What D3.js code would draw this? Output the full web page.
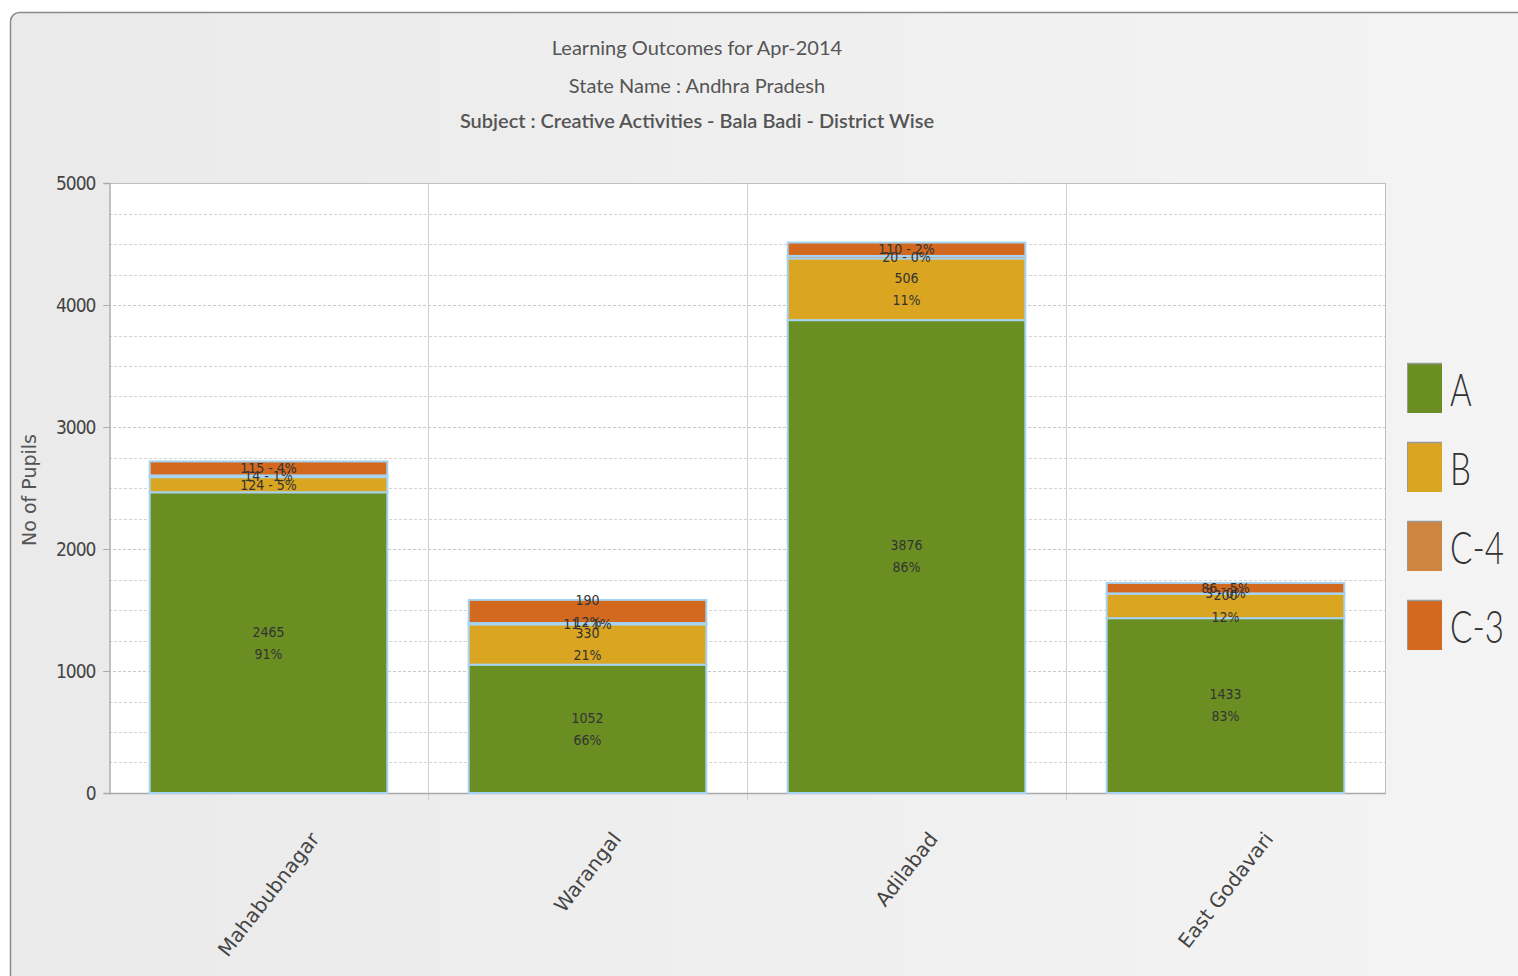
<!DOCTYPE html>
<html><head><meta charset="utf-8">
<script src="https://cdn.jsdelivr.net/npm/d3@7"></script>
<style>
html,body{margin:0;padding:0;background:#fff;}
svg{display:block;}
</style></head>
<body>
<svg id="chart" width="1518" height="976"></svg>
<script>
// ---- data ----
const districts = ["Mahabubnagar", "Warangal", "Adilabad", "East Godavari"];
const seriesNames = ["A", "B", "C-4", "C-3"];
const seriesColors = ["#6b8e23", "#daa520", "#cd853f", "#d2691e"];
const valuesA  = [2465, 1052, 3876, 1433];
const valuesB  = [124, 330, 506, 200];
const valuesC4 = [14, 11, 20, 3];
const valuesC3 = [115, 190, 110, 86];
const yTicks = [0, 1000, 2000, 3000, 4000, 5000];
const titleLines = ["Learning Outcomes for Apr-2014", "State Name : Andhra Pradesh", "Subject : Creative Activities - Bala Badi - District Wise"];
const yAxisTitle = "No of Pupils";

const svg = d3.select("#chart");
const m = {left: 109, right: 1385, top: 183, bottom: 793};

// background panel
const defs = svg.append("defs");
const grad = defs.append("linearGradient").attr("id","bg").attr("x1","0").attr("x2","1").attr("y1","0").attr("y2","0");
grad.append("stop").attr("offset","0").attr("stop-color","#eaeaea");
grad.append("stop").attr("offset","1").attr("stop-color","#f4f4f4");
svg.append("rect").attr("x",10.5).attr("y",12.5).attr("width",1530).attr("height",990).attr("rx",9)
  .attr("fill","url(#bg)").attr("stroke","#8a8a8a").attr("stroke-width",1.5);

// title
const tfont = "Lato, 'Open Sans', sans-serif";
titleLines.forEach((t,i)=>{
  svg.append("text").attr("x",697).attr("y",[55,93,128][i]).attr("text-anchor","middle")
    .attr("font-family",tfont).attr("font-size",20).attr("fill","#555")
    .attr("font-weight", i===2 ? 600 : 400)
    .text(t);
});

// scales
const x = d3.scaleBand().domain(districts).range([m.left, m.right]).padding(0);
const y = d3.scaleLinear().domain([0, 5000]).range([m.bottom, m.top]);

// plot area
svg.append("rect").attr("x",m.left).attr("y",m.top).attr("width",m.right-m.left).attr("height",m.bottom-m.top)
  .attr("fill","#fff");

// minor grid lines every 250
const minor = d3.range(250, 5000, 250).filter(v => v % 1000 !== 0);
svg.append("g").selectAll("line").data(minor).join("line")
  .attr("x1",m.left).attr("x2",m.right).attr("y1",d=>Math.round(y(d))+0.5).attr("y2",d=>Math.round(y(d))+0.5)
  .attr("stroke","#d4d4d4").attr("stroke-dasharray","3,2").attr("stroke-width",1);
// major grid
svg.append("g").selectAll("line").data(yTicks.filter(v=>v>0 && v<5000)).join("line")
  .attr("x1",m.left-6).attr("x2",m.right).attr("y1",d=>Math.round(y(d))+0.5).attr("y2",d=>Math.round(y(d))+0.5)
  .attr("stroke","#c8c8c8").attr("stroke-dasharray","3,2").attr("stroke-width",1);
// vertical separators
svg.append("g").selectAll("line").data(districts.slice(1)).join("line")
  .attr("x1",d=>Math.round(x(d))+0.5).attr("x2",d=>Math.round(x(d))+0.5).attr("y1",m.top).attr("y2",m.bottom+7)
  .attr("stroke","#d0d0d0").attr("stroke-width",1);

// frame
svg.append("line").attr("x1",m.left).attr("x2",m.right).attr("y1",m.top+0.5).attr("y2",m.top+0.5).attr("stroke","#c0c0c0");
svg.append("line").attr("x1",m.right+0.5).attr("x2",m.right+0.5).attr("y1",m.top).attr("y2",m.bottom).attr("stroke","#c0c0c0");

// y axis
const yAxis = d3.axisLeft(y).tickValues(yTicks).tickSize(6).tickPadding(8).tickFormat(d3.format("d"));
const gy = svg.append("g").attr("transform",`translate(${m.left+0.5},0)`).call(yAxis);
gy.select(".domain").attr("stroke","#aaa").attr("stroke-width",1.5);
gy.selectAll(".tick line").attr("stroke","#aaa");
gy.selectAll(".tick text").attr("font-family","'DejaVu Sans', sans-serif").attr("font-stretch","condensed")
  .attr("font-size",19).attr("fill","#444").attr("letter-spacing","-1");

// x axis baseline
svg.append("line").attr("x1",m.left).attr("x2",m.right+1).attr("y1",m.bottom+0.5).attr("y2",m.bottom+0.5)
  .attr("stroke","#aaa").attr("stroke-width",1.5);

// y title
svg.append("text").attr("transform",`translate(36,490) rotate(-90)`).attr("text-anchor","middle")
  .attr("font-family","'DejaVu Sans', sans-serif").attr("font-size",19).attr("fill","#555").text(yAxisTitle);

// stacked bars
const rows = districts.map((d,i)=>({district:d, A:valuesA[i], B:valuesB[i], "C-4":valuesC4[i], "C-3":valuesC3[i]}));
const stack = d3.stack().keys(seriesNames)(rows);
const color = d3.scaleOrdinal().domain(seriesNames).range(seriesColors);
const barW = x.bandwidth()*0.745;
const barOff = (x.bandwidth()-barW)/2;

const gBars = svg.append("g");
stack.forEach(layer=>{
  gBars.append("g").selectAll("rect").data(layer).join("rect")
    .attr("x",d=>x(d.data.district)+barOff)
    .attr("width",barW)
    .attr("y",d=>y(d[1]))
    .attr("height",d=>Math.max(0,y(d[0])-y(d[1])))
    .attr("fill",color(layer.key))
    .attr("stroke","#a6d3f2").attr("stroke-width",2);
});

// data labels
const gLab = svg.append("g").attr("font-family","'DejaVu Sans', sans-serif").attr("font-stretch","condensed")
  .attr("font-size",14).attr("fill","#333").attr("text-anchor","middle");
stack.forEach(layer=>{
  layer.forEach(d=>{
    const v = d[1]-d[0];
    const tot = seriesNames.reduce((s,k)=>s+d.data[k],0);
    const pct = Math.round(v/tot*100);
    const cx = x(d.data.district)+x.bandwidth()/2;
    const y0 = y(d[0]), y1 = y(d[1]);
    const cy = (y0+y1)/2;
    if (y0-y1 >= 20) {
      gLab.append("text").attr("x",cx).attr("y",cy-11).attr("dy","0.35em").text(v);
      gLab.append("text").attr("x",cx).attr("y",cy+11).attr("dy","0.35em").text(pct+"%");
    } else {
      gLab.append("text").attr("x",cx).attr("y",cy).attr("dy","0.35em").text(v+" - "+pct+"%");
    }
  });
});

// x labels rotated around their center
const gx = svg.append("g");
districts.forEach(d=>{
  const cx = x(d)+x.bandwidth()/2;
  const t = gx.append("text").attr("text-anchor","middle").attr("dy","0.35em")
    .attr("font-family","'DejaVu Sans', sans-serif").attr("font-size",20).attr("fill","#444").text(d);
  const L = t.node().getComputedTextLength();
  const ang = 52*Math.PI/180;
  const halfH = (L/2)*Math.sin(ang) + 8*Math.cos(ang);
  const cy = 830 + halfH;
  t.attr("transform",`translate(${cx},${cy}) rotate(-52)`);
});

// legend
const gLeg = svg.append("g");
seriesNames.forEach((s,i)=>{
  const yy = 363 + i*79;
  gLeg.append("rect").attr("x",1407).attr("y",yy).attr("width",35).attr("height",50)
    .attr("fill",seriesColors[i]);
  gLeg.append("line").attr("x1",1407).attr("x2",1442).attr("y1",yy+0.5).attr("y2",yy+0.5).attr("stroke","#999").attr("stroke-width",1.5);
  gLeg.append("line").attr("x1",1407.5).attr("x2",1407.5).attr("y1",yy).attr("y2",yy+50).attr("stroke","#999").attr("stroke-width",1);
  gLeg.append("text").attr("transform",`translate(1450,${yy+43}) scale(0.72,1)`)
    .attr("font-family","Lato, sans-serif").attr("font-size",46).attr("font-weight",300).attr("fill","#333").text(s);
});
</script>
</body></html>
